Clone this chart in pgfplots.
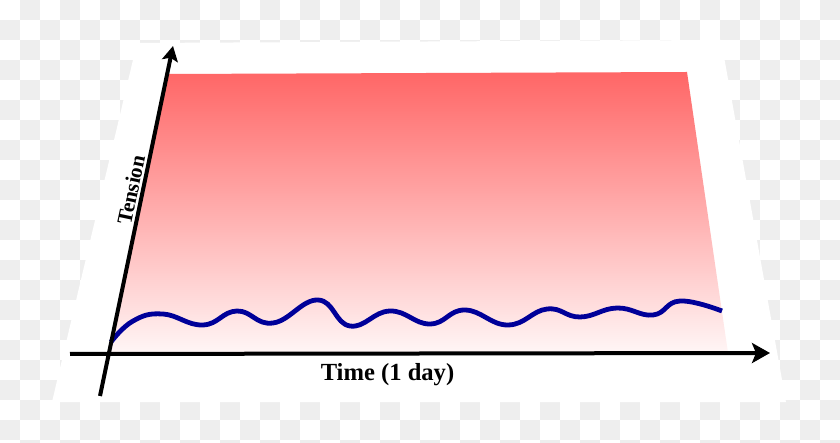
\documentclass[border=0pt]{standalone}
\usepackage{fontspec}
\setmainfont{Liberation Serif}
\usepackage{pgfplots}
\pgfplotsset{compat=1.18}
\usetikzlibrary{arrows.meta}
\definecolor{chk}{HTML}{EEEEEE}
\definecolor{redtop}{HTML}{FF6666}
\definecolor{redbot}{HTML}{FFF6F6}
\definecolor{wave}{HTML}{000099}

\begin{document}
\begin{tikzpicture}
\useasboundingbox (0,0) rectangle (420pt,221.5pt);
% transparency checkerboard behind the sheet
\begin{scope}[yshift=221.5pt, x=0.5pt, y=-0.5pt]
  \clip (0,0) rectangle (840,443);
  \fill[white] (0,0) rectangle (840,443);
  \foreach \i in {0,...,41}{
    \foreach \j in {0,...,22}{
      \pgfmathtruncatemacro\odd{mod(\i+\j,2)}
      \ifnum\odd=1 \fill[chk] (\i*20,\j*20) rectangle +(20,20);\fi
    }}
\end{scope}
\begin{axis}[
    at={(0,0)}, anchor=south west,
    scale only axis,
    width=420pt, height=221.5pt,
    xmin=0, xmax=840, ymin=0, ymax=443,
    y dir=reverse,
    hide axis,
    clip=false
  ]
  % sheet and tension band
  \fill[white] (axis cs:137,43) -- (axis cs:721,40) -- (axis cs:786,402) -- (axis cs:52,402) -- cycle;
  \path[top color=redtop, bottom color=redbot]
    (axis cs:168,74) -- (axis cs:687,72) -- (axis cs:728,353) -- (axis cs:108,353) -- cycle;

  % tension over the day (peaks and troughs)
  \addplot[wave, line width=2.4pt, smooth, tension=0.75] coordinates {
    (111,342) (133,321) (163,314) (203,325) (237,311) (273,323)
    (318,300) (350,326) (390,311) (430,324) (465,310) (508,325)
    (547,309) (580,317) (617,308) (653,315) (680,301) (722,311)
  };

  % axes
  \draw[line width=2pt, -{Stealth[length=9pt,width=10pt,inset=2pt]}]
    (axis cs:70,354) -- (axis cs:770,353);
  \draw[line width=2pt, -{Stealth[length=7.5pt,width=8pt,inset=1.5pt]}]
    (axis cs:100,396) -- (axis cs:173,46);

  \node[font=\bfseries\fontsize{12.3}{14}\selectfont, anchor=base]
    at (axis cs:387.5,380) {Time (1 day)};
  \node[font=\bfseries\fontsize{10.6}{12}\selectfont, rotate=78]
    at (axis cs:131,190) {Tension};
\end{axis}
\end{tikzpicture}
\end{document}
